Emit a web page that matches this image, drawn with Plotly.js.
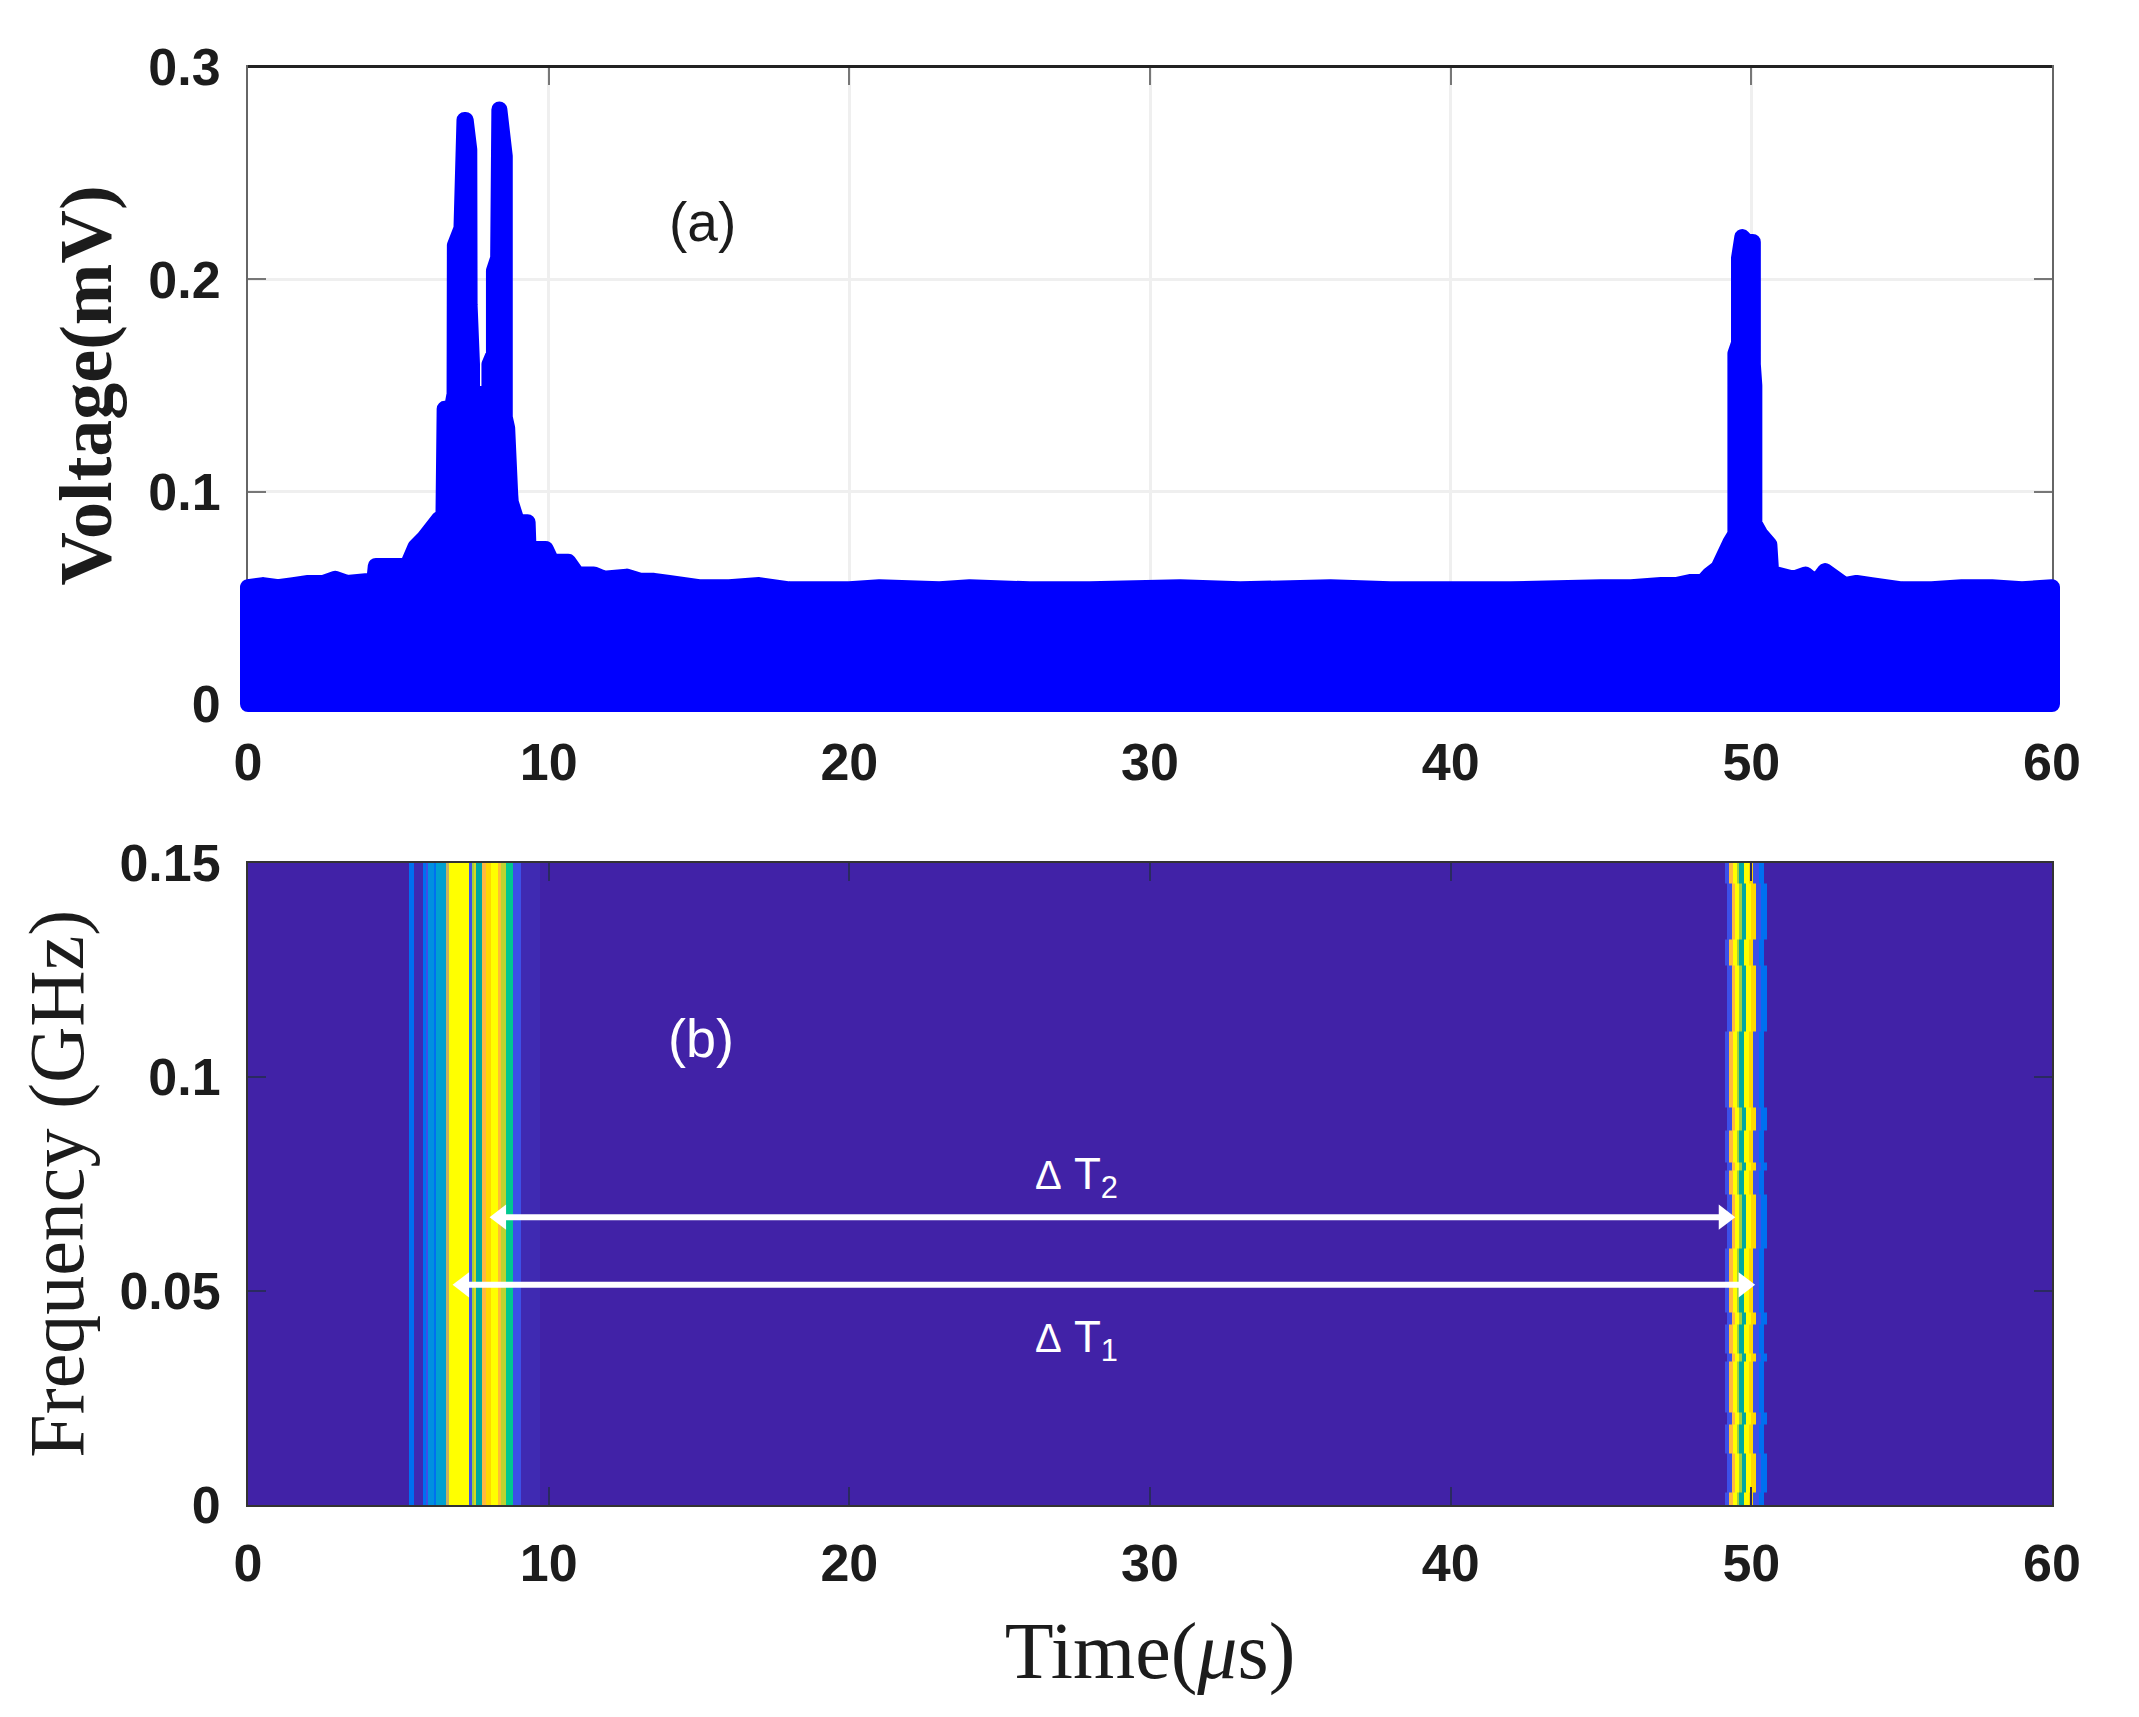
<!DOCTYPE html>
<html><head><meta charset="utf-8">
<script src="https://cdn.plot.ly/plotly-3.0.1.min.js"></script>
<style>html,body{margin:0;padding:0;background:#fff}
.js-line{stroke-linejoin:round !important;stroke-linecap:round !important;stroke-miterlimit:10 !important}</style></head>
<body><div id="chart" style="width:2139px;height:1717px"></div>
<script>
// Panel (a): upper envelope of the voltage trace
const timeUs = [0,0.5,1,1.5,2,2.5,2.9,3.3,4,4.2,4.25,5.3,5.57,5.85,6.35,6.5,6.54,6.78,6.87,6.88,7.1,7.2,7.24,7.36,7.37,7.45,7.45,8.03,8.03,8.18,8.18,8.32,8.36,8.54,8.54,8.62,8.72,8.74,8.95,9.3,9.33,9.9,10.1,10.65,10.95,11.5,11.84,12.6,13.06,13.5,14,15,16,17,18,20,21,23,24,26,28,31,33,36,38,40,42,45,46,47,47.5,48,48.4,48.6,48.9,49.1,49.3,49.47,49.47,49.59,49.59,49.7,49.85,50.05,50.05,50.1,50.1,50.3,50.6,50.66,51.4,51.8,52.15,52.45,53.1,53.5,54,55,56,57,58,59,60];
const voltageMv = [0.055,0.056,0.055,0.056,0.057,0.057,0.059,0.057,0.058,0.058,0.065,0.065,0.074,0.078,0.087,0.087,0.139,0.139,0.146,0.216,0.224,0.275,0.275,0.261,0.188,0.16,0.146,0.146,0.16,0.165,0.204,0.21,0.28,0.258,0.135,0.13,0.099,0.095,0.0856,0.0856,0.073,0.073,0.067,0.067,0.061,0.061,0.059,0.06,0.058,0.058,0.057,0.055,0.055,0.056,0.054,0.054,0.055,0.054,0.055,0.054,0.054,0.055,0.054,0.055,0.054,0.054,0.054,0.055,0.055,0.056,0.056,0.0575,0.0575,0.0607,0.064,0.07,0.076,0.08,0.165,0.17,0.21,0.2199,0.2176,0.2176,0.16,0.15,0.085,0.08,0.075,0.0617,0.059,0.061,0.057,0.0626,0.056,0.057,0.056,0.054,0.054,0.055,0.055,0.054,0.055];

// Panel (b): time-frequency stripes
const band1Edges  = [5.35,5.52,5.83,5.92,6.0,6.19,6.25,6.58,6.69,7.35,7.44,7.51,7.58,7.77,7.91,8.07,8.32,8.43,8.58,8.82,9.07,9.71];
const band1Levels = [0.3,0.03,0.3,0.15,0.38,0.3,0.42,0.8,1,0.15,0.72,0.78,0.55,0.85,0.92,1,0.88,0.75,0.65,0.15,0.03];
const band2Edges  = [49.12,49.27,49.38,49.52,49.60,49.75,49.92,50.07,50.24,50.43];
const band2Levels = [0.15,0.85,1,0.72,0.55,1,0.92,0.15,0.3];
const freqEdges   = [0,0.003,0.0121,0.0189,0.0215,0.0334,0.0353,0.0421,0.0449,0.06,0.0724,0.078,0.0799,0.0874,0.0929,0.1105,0.1259,0.132,0.1451,0.15];
const band2Shift  = [0,0.077,0,0.077,0,0.077,0,0.077,0,0.077,0,0.077,0,0.077,0,0.077,0,0.077,0];

// Arrow spans between the pulses
const dt2Time = [8.40,49.10];
const dt2Freq = [0.0672,0.0672];
const dt1Time = [7.17,49.76];
const dt1Freq = [0.0514,0.0514];

// Tick labels
const xTicks = [0,10,20,30,40,50,60];
const vTicks = [0,0.1,0.2,0.3];
const vLabels = ['0','0.1','0.2','0.3'];
const fTicks = [0,0.05,0.1,0.15];
const fLabels = ['0','0.05','0.1','0.15'];

function lookup(edges, levels, m){
  for(let i=0;i<levels.length;i++){ if(m>=edges[i] && m<edges[i+1]) return levels[i]; }
  return null;
}
const shifts=[...new Set(band2Shift)];
let cols=new Set([0,60,...band1Edges]);
shifts.forEach(s=>band2Edges.forEach(e=>cols.add(+(e+s).toFixed(3))));
const colEdges=[...cols].sort((a,b)=>a-b);
const zGrid=band2Shift.map(s=>{
  const row=[];
  for(let i=0;i<colEdges.length-1;i++){
    const m=(colEdges[i]+colEdges[i+1])/2;
    let v=lookup(band1Edges,band1Levels,m);
    if(v===null) v=lookup(band2Edges,band2Levels,m-s);
    row.push(v===null?0:v);
  }
  return row;
});

const stripeScale=[[0,'#4122a7'],[0.03,'#3f2ab2'],[0.15,'#3c50e8'],[0.3,'#0070f0'],[0.38,'#0090e0'],[0.42,'#00a0d0'],[0.55,'#00a8a0'],[0.65,'#00c890'],[0.72,'#a0d040'],[0.78,'#d8d820'],[0.8,'#c8b060'],[0.85,'#ffb840'],[0.88,'#ffc030'],[0.92,'#ffd800'],[1,'#ffff00']];

const W=2139,H=1717;
const L=248,R=2052,T=67,B=704,PAD=12;
const xPad=PAD*60/(R-L), yPad=PAD*0.3/(B-T);
const tickFont={family:'Liberation Sans, Arial, sans-serif',size:52,color:'#1c1c1c',weight:700};
const xBase={range:[0,60],tickmode:'array',tickvals:xTicks,ticktext:xTicks.map(String),ticks:'inside',ticklen:18,tickwidth:2,
  showline:true,linewidth:2,mirror:'ticks',tickfont:tickFont,ticklabelstandoff:12,zeroline:false,automargin:false};
const yBase={ticks:'inside',ticklen:18,tickwidth:2,showline:true,linewidth:2,mirror:'ticks',tickfont:tickFont,ticklabelstandoff:15,zeroline:false,automargin:false};

const serif='Liberation Serif, Times New Roman, serif';
const sans='Liberation Sans, Arial, sans-serif';
const delta=(sub,f)=>({xref:'x2',yref:'y2',x:27.55,y:f,text:'<span style="font-size:40px">Δ</span> T<sub>'+sub+'</sub>',showarrow:false,font:{family:sans,size:44,color:'#ffffff'}});
const arrowTrace=(t,f)=>({type:'scatter',mode:'lines+markers',x:t,y:f,xaxis:'x2',yaxis:'y2',line:{color:'#ffffff',width:6},
  marker:{symbol:['triangle-left','triangle-right'],size:22,color:'#ffffff',line:{width:0}},hoverinfo:'skip',showlegend:false});

Plotly.newPlot('chart',[
 {type:'scatter',mode:'lines',x:timeUs.concat([60,0,0]),y:voltageMv.concat([0,0,voltageMv[0]]),fill:'toself',fillcolor:'#0000ff',
  line:{color:'#0000ff',width:16,shape:'linear',simplify:false},xaxis:'x3',yaxis:'y3',hoverinfo:'skip',showlegend:false},
 {type:'heatmap',x:colEdges,y:freqEdges,z:zGrid,zmin:0,zmax:1,zsmooth:false,colorscale:stripeScale,showscale:false,xaxis:'x2',yaxis:'y2',hoverinfo:'skip'},
 arrowTrace(dt2Time,dt2Freq),arrowTrace(dt1Time,dt1Freq)
],{
 width:W,height:H,autosize:false,margin:{l:0,r:0,t:0,b:0},paper_bgcolor:'#ffffff',plot_bgcolor:'rgba(0,0,0,0)',showlegend:false,
 xaxis:Object.assign({},xBase,{domain:[L/W,R/W],anchor:'y',showgrid:true,gridcolor:'#efefef',gridwidth:3,linecolor:'#666666',tickcolor:'#777777'}),
 yaxis:Object.assign({},yBase,{domain:[1-B/H,1-T/H],anchor:'x',range:[0,0.3],tickmode:'array',tickvals:vTicks,ticktext:vLabels,showgrid:true,gridcolor:'#efefef',gridwidth:3,linecolor:'#666666',tickcolor:'#777777',
   title:{text:'<b>Voltage(mV)</b>',font:{family:serif,size:74,color:'#1c1c1c'},standoff:12}}),
 xaxis2:Object.assign({},xBase,{domain:[L/W,R/W],anchor:'y2',showgrid:false,linecolor:'#333333',tickcolor:'#2a2a60',
   title:{text:'Time(<i>μ</i>s)',font:{family:serif,size:80,color:'#1c1c1c'},standoff:31}}),
 yaxis2:Object.assign({},yBase,{domain:[1-1505/H,1-862.5/H],anchor:'x2',range:[0,0.15],tickmode:'array',tickvals:fTicks,ticktext:fLabels,showgrid:false,linecolor:'#333333',tickcolor:'#2a2a60',
   title:{text:'Frequency (GHz)',font:{family:serif,size:78,color:'#1c1c1c'},standoff:10}}),
 xaxis3:{visible:false,domain:[(L-PAD)/W,(R+PAD)/W],range:[-xPad,60+xPad],anchor:'y3'},
 yaxis3:{visible:false,domain:[1-(B+PAD)/H,1-(T-PAD)/H],range:[-yPad,0.3+yPad],anchor:'x3'},
 shapes:[{type:'line',xref:'paper',yref:'paper',x0:L/W,x1:R/W,y0:1-66.5/H,y1:1-66.5/H,line:{color:'#222222',width:3}}],
 annotations:[
  {xref:'x',yref:'y',x:15.1,y:0.227,text:'(a)',showarrow:false,font:{family:sans,size:55,color:'#1c1c1c'}},
  {xref:'x2',yref:'y2',x:15.05,y:0.109,text:'(b)',showarrow:false,font:{family:sans,size:54,color:'#ffffff'}},
  delta('2',0.0766),delta('1',0.0386)
 ]
},{displayModeBar:false,staticPlot:true});
</script></body></html>
